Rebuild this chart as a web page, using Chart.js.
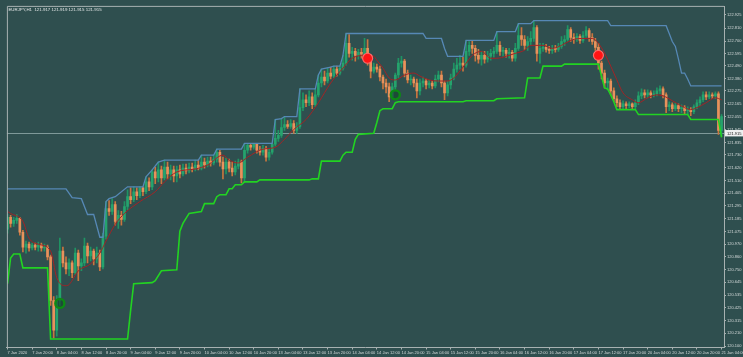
<!DOCTYPE html>
<html>
<head>
<meta charset="utf-8">
<script src="https://cdn.jsdelivr.net/npm/chart.js@4/dist/chart.umd.min.js"></script>
<style>
html,body{margin:0;padding:0;background:#2f4f4f;}
canvas{display:block;}
</style>
</head>
<body>
<canvas id="c" width="743" height="357"></canvas>
<script>
// ---- data (EURJPY H1, bar index 0 = 7 Jan 2020 12:00) ----
const symbolTitle = 'EURJPY,H1  121.917 121.919 121.915 121.915';
const currentPrice = 121.915;

const xTickLabels = ['7 Jan 2020','7 Jan 20:00','8 Jan 04:00','8 Jan 12:00','8 Jan 20:00','9 Jan 04:00','9 Jan 12:00','9 Jan 20:00','10 Jan 04:00','10 Jan 12:00','10 Jan 20:00','13 Jan 04:00','13 Jan 12:00','13 Jan 20:00','14 Jan 04:00','14 Jan 12:00','14 Jan 20:00','15 Jan 04:00','15 Jan 12:00','15 Jan 20:00','16 Jan 04:00','16 Jan 12:00','16 Jan 20:00','17 Jan 04:00','17 Jan 12:00','17 Jan 20:00','20 Jan 04:00','20 Jan 12:00','20 Jan 20:00','21 Jan 04:00'];
const barsPerTick = 8;

const yTickValues = [122.925,122.810,122.700,122.595,122.490,122.380,122.275,122.165,122.055,121.945,121.835,121.730,121.620,121.510,121.405,121.295,121.185,121.075,120.970,120.860,120.750,120.645,120.535,120.425,120.315,120.210,120.100];

const opens = [
121.096,121.197,121.146,121.172,121.189,121.071,120.944,120.969,120.936,120.961,
120.944,120.961,120.936,120.944,120.860,120.489,120.236,120.489,120.910,120.809,
120.759,120.809,120.725,120.893,120.784,120.809,120.953,120.868,120.910,120.843,
120.893,120.775,121.037,121.273,121.248,121.306,121.163,121.214,121.180,121.290,
121.374,121.349,121.416,121.382,121.450,121.416,121.500,121.458,121.585,121.534,
121.602,121.534,121.627,121.568,121.602,121.551,121.602,121.568,121.618,121.593,
121.627,121.610,121.644,121.618,121.669,121.644,121.677,121.661,121.694,121.753,
121.669,121.610,121.669,121.618,121.585,121.635,121.669,121.534,121.770,121.812,
121.795,121.821,121.770,121.753,121.787,121.711,121.753,121.821,121.871,121.897,
121.964,121.989,121.973,121.998,121.939,121.973,122.133,122.200,122.175,122.225,
122.158,122.242,122.343,122.394,122.360,122.428,122.402,122.461,122.428,122.470,
122.512,122.681,122.596,122.613,122.579,122.605,122.588,122.638,122.529,122.445,
122.478,122.461,122.394,122.343,122.310,122.225,122.310,122.411,122.512,122.529,
122.428,122.369,122.377,122.343,122.276,122.343,122.360,122.327,122.343,122.318,
122.377,122.411,122.343,122.259,122.327,122.386,122.461,122.495,122.512,122.495,
122.613,122.664,122.638,122.579,122.546,122.579,122.546,122.571,122.596,122.613,
122.664,122.613,122.622,122.596,122.605,122.554,122.638,122.748,122.714,122.664,
122.697,122.723,122.816,122.596,122.638,122.647,122.630,122.622,122.638,122.630,
122.655,122.697,122.714,122.799,122.731,122.714,122.740,122.706,122.748,122.790,
122.731,122.697,122.647,122.512,122.428,122.343,122.360,122.276,122.209,122.175,
122.141,122.166,122.150,122.166,122.141,122.175,122.234,122.259,122.242,122.259,
122.242,122.251,122.276,122.293,122.242,122.141,122.158,122.124,122.150,122.124,
122.133,122.107,122.116,122.099,122.141,122.175,122.200,122.242,122.225,122.242,
122.234,122.251,121.939];

const highs = [
121.222,121.214,121.197,121.222,121.197,121.087,120.995,120.986,120.978,120.978,
120.986,120.978,120.969,120.961,120.877,120.522,120.531,121.020,120.944,120.860,
120.843,120.826,120.936,120.919,120.843,121.020,120.978,120.944,120.927,120.944,
120.919,121.062,121.332,121.340,121.357,121.332,121.256,121.248,121.332,121.433,
121.450,121.458,121.450,121.458,121.458,121.543,121.534,121.602,121.627,121.669,
121.635,121.686,121.669,121.644,121.635,121.635,121.644,121.652,121.652,121.661,
121.661,121.686,121.686,121.728,121.703,121.711,121.711,121.728,121.779,121.770,
121.711,121.703,121.694,121.669,121.677,121.694,121.686,121.829,121.829,121.829,
121.829,121.829,121.804,121.812,121.804,121.787,121.829,122.032,121.939,122.040,
122.057,122.023,122.032,122.023,122.006,122.293,122.259,122.242,122.276,122.259,
122.293,122.411,122.461,122.445,122.470,122.478,122.487,122.487,122.487,122.579,
122.765,122.757,122.647,122.638,122.630,122.638,122.723,122.714,122.563,122.512,
122.504,122.487,122.411,122.377,122.343,122.343,122.428,122.554,122.571,122.546,
122.453,122.411,122.394,122.377,122.377,122.394,122.377,122.369,122.360,122.411,
122.445,122.445,122.360,122.360,122.419,122.512,122.554,122.579,122.563,122.706,
122.697,122.706,122.664,122.630,122.613,122.613,122.613,122.630,122.647,122.782,
122.697,122.647,122.638,122.638,122.622,122.681,122.849,122.816,122.748,122.740,
122.782,122.875,122.832,122.681,122.681,122.672,122.655,122.664,122.664,122.681,
122.740,122.748,122.832,122.816,122.765,122.765,122.757,122.782,122.824,122.807,
122.765,122.723,122.681,122.529,122.453,122.386,122.377,122.301,122.234,122.200,
122.192,122.183,122.183,122.175,122.200,122.268,122.293,122.284,122.284,122.276,
122.276,122.301,122.318,122.310,122.259,122.183,122.175,122.175,122.166,122.158,
122.150,122.141,122.133,122.158,122.200,122.225,122.268,122.268,122.268,122.259,
122.268,122.268,122.074];

const lows = [
121.062,121.113,121.121,121.146,121.045,120.902,120.893,120.910,120.919,120.919,
120.910,120.910,120.910,120.834,120.447,120.168,120.185,120.447,120.775,120.716,
120.700,120.683,120.708,120.657,120.742,120.784,120.809,120.826,120.792,120.809,
120.742,120.759,121.012,121.214,121.222,121.130,121.104,121.130,121.163,121.264,
121.315,121.332,121.349,121.366,121.382,121.399,121.425,121.433,121.484,121.500,
121.484,121.517,121.526,121.517,121.500,121.500,121.534,121.551,121.568,121.576,
121.585,121.593,121.602,121.602,121.618,121.627,121.635,121.644,121.669,121.635,
121.526,121.568,121.585,121.551,121.559,121.610,121.492,121.500,121.745,121.770,
121.779,121.745,121.728,121.728,121.677,121.686,121.736,121.804,121.846,121.880,
121.939,121.956,121.956,121.914,121.914,121.956,122.107,122.141,122.150,122.124,
122.141,122.225,122.310,122.327,122.343,122.377,122.386,122.402,122.411,122.453,
122.495,122.563,122.537,122.529,122.546,122.554,122.563,122.495,122.386,122.428,
122.436,122.360,122.293,122.259,122.183,122.209,122.276,122.386,122.478,122.394,
122.343,122.327,122.310,122.217,122.242,122.310,122.293,122.301,122.293,122.301,
122.352,122.310,122.200,122.234,122.293,122.369,122.436,122.461,122.445,122.478,
122.579,122.596,122.529,122.512,122.495,122.512,122.520,122.537,122.563,122.596,
122.579,122.571,122.563,122.554,122.529,122.529,122.622,122.664,122.630,122.622,
122.664,122.697,122.529,122.512,122.613,122.605,122.596,122.596,122.605,122.613,
122.638,122.664,122.697,122.697,122.681,122.697,122.681,122.689,122.731,122.697,
122.672,122.622,122.461,122.377,122.301,122.284,122.242,122.183,122.141,122.116,
122.124,122.124,122.133,122.116,122.124,122.158,122.209,122.217,122.217,122.217,
122.225,122.234,122.251,122.217,122.091,122.107,122.099,122.107,122.099,122.091,
122.082,122.074,122.065,122.082,122.124,122.150,122.183,122.200,122.209,122.209,
122.209,121.905,121.888];

const closes = [
121.197,121.146,121.172,121.189,121.071,120.944,120.969,120.936,120.961,120.944,
120.961,120.936,120.944,120.860,120.489,120.236,120.489,120.910,120.809,120.759,
120.809,120.725,120.893,120.784,120.809,120.953,120.868,120.910,120.843,120.893,
120.775,121.037,121.273,121.248,121.306,121.163,121.214,121.180,121.290,121.374,
121.349,121.416,121.382,121.450,121.416,121.500,121.458,121.585,121.534,121.602,
121.534,121.627,121.568,121.602,121.551,121.602,121.568,121.618,121.593,121.627,
121.610,121.644,121.618,121.669,121.644,121.677,121.661,121.694,121.753,121.669,
121.610,121.669,121.618,121.585,121.635,121.669,121.534,121.770,121.812,121.795,
121.821,121.770,121.753,121.787,121.711,121.753,121.821,121.871,121.897,121.964,
121.989,121.973,121.998,121.939,121.973,122.133,122.200,122.175,122.225,122.158,
122.242,122.343,122.394,122.360,122.428,122.402,122.461,122.428,122.470,122.512,
122.681,122.596,122.613,122.579,122.605,122.588,122.638,122.529,122.445,122.478,
122.461,122.394,122.343,122.310,122.225,122.310,122.411,122.512,122.529,122.428,
122.369,122.377,122.343,122.276,122.343,122.360,122.327,122.343,122.318,122.377,
122.411,122.343,122.259,122.327,122.386,122.461,122.495,122.512,122.495,122.613,
122.664,122.638,122.579,122.546,122.579,122.546,122.571,122.596,122.613,122.664,
122.613,122.622,122.596,122.605,122.554,122.638,122.748,122.714,122.664,122.697,
122.723,122.816,122.596,122.638,122.647,122.630,122.622,122.638,122.630,122.655,
122.697,122.714,122.799,122.731,122.714,122.740,122.706,122.748,122.790,122.731,
122.697,122.647,122.512,122.428,122.343,122.360,122.276,122.209,122.175,122.141,
122.166,122.150,122.166,122.141,122.175,122.234,122.259,122.242,122.259,122.242,
122.251,122.276,122.293,122.242,122.141,122.158,122.124,122.150,122.124,122.133,
122.107,122.116,122.099,122.141,122.175,122.200,122.242,122.225,122.242,122.234,
122.251,121.939,122.057];

// upper channel (blue) breakpoints
const upperIdx = [0,19,21,24,26,28,30,31,32,33,35,39,44,45,47,49,51,62,63,67,68,76,77,86,87,89,90,94,95,100,101,102,105,106,108,109,110,135,136,141,142,143,148,149,158,159,165,166,170,171,195,196,214,215,216,217,218,219,220,221,222,232];
const upperVal = [121.441,121.441,121.366,121.357,121.222,121.222,121.028,121.028,121.332,121.357,121.374,121.458,121.458,121.543,121.602,121.669,121.686,121.686,121.728,121.728,121.779,121.779,121.829,121.829,122.032,122.040,122.057,122.057,122.293,122.293,122.411,122.461,122.478,122.487,122.487,122.579,122.765,122.765,122.723,122.723,122.638,122.571,122.571,122.706,122.706,122.782,122.782,122.849,122.849,122.875,122.875,122.832,122.832,122.765,122.697,122.655,122.546,122.428,122.428,122.377,122.318,122.318];

// lower trailing line (green) breakpoints
const lowerIdx = [0,1,2,4,5,13,14,39,40,41,47,48,50,55,56,57,59,63,64,67,68,69,71,72,73,74,76,77,81,82,98,99,101,102,108,109,110,112,113,114,119,120,121,122,125,126,127,148,149,158,159,168,169,173,174,180,181,192,193,194,195,196,197,198,204,205,221,222,231,232];
const lowerVal = [120.632,120.851,120.885,120.885,120.767,120.767,120.160,120.160,120.405,120.632,120.641,120.657,120.742,120.750,121.079,121.146,121.231,121.248,121.315,121.315,121.374,121.391,121.391,121.441,121.441,121.475,121.475,121.500,121.500,121.517,121.517,121.526,121.526,121.677,121.677,121.728,121.753,121.753,121.863,121.905,121.914,122.006,122.107,122.124,122.124,122.175,122.183,122.183,122.192,122.192,122.209,122.217,122.386,122.386,122.487,122.487,122.504,122.504,122.402,122.301,122.293,122.242,122.183,122.116,122.116,122.074,122.074,122.032,122.032,121.880];

// moving average (dark red)
const maIdx = [0,1,5,7,10,14,16,19,20,23,27,30,32,35,38,43,48,51,55,61,65,70,72,75,78,83,87,90,93,97,101,105,109,112,116,119,120,122,124,126,129,132,134,137,140,143,145,147,149,151,154,157,159,162,165,168,170,174,177,180,183,186,190,192,194,196,198,200,203,205,208,211,213,216,220,222,224,227,230,232];
const maVal = [121.248,121.231,121.163,121.020,120.969,120.910,120.683,120.615,120.624,120.742,120.801,120.893,120.995,121.138,121.231,121.332,121.416,121.500,121.585,121.610,121.644,121.728,121.686,121.661,121.711,121.779,121.795,121.863,121.947,122.032,122.175,122.343,122.470,122.554,122.579,122.571,122.537,122.470,122.386,122.369,122.411,122.428,122.402,122.369,122.360,122.360,122.386,122.445,122.512,122.579,122.613,122.554,122.554,122.571,122.596,122.622,122.664,122.664,122.638,122.664,122.706,122.723,122.723,122.681,122.596,122.487,122.369,122.259,122.200,122.175,122.217,122.242,122.234,122.192,122.133,122.116,122.133,122.175,122.217,122.200];

// signal markers
const buyIdx = [17,126];
const buyVal = [120.464,122.242];
const sellIdx = [117,192];
const sellVal = [122.554,122.579];

// ---- styling ----
const BG = '#2f4f4f';
const AXIS = '#a7b1b1';
const TEXT = '#d4dada';
const UP_BODY = '#25a36d', DN_BODY = '#e8925c';
const UP_WICK = '#1f9463', DN_WICK = '#c9763f';
const FONT = {family: 'Liberation Sans, Arial, sans-serif', size: 4};

const idx = closes.map((_, i) => i);
const isUp = i => closes[i] >= opens[i];

const wickData = idx.map(i => ({x: i, y: [lows[i], highs[i]]}));
const bodyData = idx.map(i => ({x: i, y: [opens[i], closes[i]]}));
const pts = (xs, ys) => xs.map((x, k) => ({x, y: ys[k]}));

const bgPlugin = {
  id: 'bg',
  beforeDraw(chart) {
    const c = chart.ctx;
    c.save(); c.fillStyle = BG; c.fillRect(0, 0, chart.width, chart.height); c.restore();
  }
};
const pricePlugin = {
  id: 'priceLine',
  beforeDatasetsDraw(chart) {
    const c = chart.ctx, a = chart.chartArea, y = Math.round(chart.scales.y.getPixelForValue(currentPrice)) + 0.5;
    c.save(); c.strokeStyle = '#7f9999'; c.lineWidth = 1;
    c.beginPath(); c.moveTo(a.left, y); c.lineTo(a.right, y); c.stroke(); c.restore();
  },
  afterDraw(chart) {
    const c = chart.ctx, a = chart.chartArea;
    const y = chart.scales.y.getPixelForValue(currentPrice);
    c.save();
    c.strokeStyle = AXIS; c.lineWidth = 1;
    c.beginPath(); c.moveTo(a.left + 0.5, a.top - 0.5); c.lineTo(a.right, a.top - 0.5);
    c.moveTo(a.left + 0.5, a.top - 0.5); c.lineTo(a.left + 0.5, a.bottom); c.stroke();
    c.fillStyle = '#eef0f0';
    c.fillRect(a.right + 1, y - 3.2, chart.width - a.right - 1, 6.4);
    c.fillStyle = '#111';
    c.font = FONT.size + 'px ' + FONT.family;
    c.textBaseline = 'middle'; c.textAlign = 'left';
    c.fillText(currentPrice.toFixed(3), a.right + 3, y + 0.2);
    c.fillStyle = '#e4e8e8'; c.textBaseline = 'top';
    c.font = '4.4px ' + FONT.family;
    c.fillText(symbolTitle, a.left + 1.5, a.top + 0.8);
    c.restore();
  }
};

new Chart(document.getElementById('c'), {
  type: 'bar',
  plugins: [bgPlugin, pricePlugin],
  data: {
    datasets: [
      {type: 'line', label: 'sell', data: pts(sellIdx, sellVal), showLine: false, pointStyle: 'circle', pointRadius: 5, pointBackgroundColor: '#ff1414', pointBorderColor: '#ff6a6a', pointBorderWidth: 1.2, order: 0},
      {type: 'line', label: 'buy', data: pts(buyIdx, buyVal), showLine: false, pointStyle: 'circle', pointRadius: 4.5, pointBackgroundColor: 'rgba(20,70,40,0.6)', pointBorderColor: '#0d8a14', pointBorderWidth: 2.4, order: 0},
      {type: 'line', label: 'MA', data: pts(maIdx, maVal), borderColor: '#a22426', borderWidth: 1, pointRadius: 0, cubicInterpolationMode: 'monotone', order: 2},
      {type: 'line', label: 'upper', data: pts(upperIdx, upperVal), borderColor: '#5688b5', borderWidth: 1.3, pointRadius: 0, tension: 0, order: 1},
      {type: 'line', label: 'lower', data: pts(lowerIdx, lowerVal), borderColor: '#22d322', borderWidth: 1.6, pointRadius: 0, tension: 0, order: 1},
      {label: 'wick', data: wickData, grouped: false, barThickness: 1, borderWidth: 0, borderSkipped: false,
        backgroundColor: ctx => isUp(ctx.dataIndex) ? UP_WICK : DN_WICK, order: 11},
      {label: 'body', data: bodyData, grouped: false, barThickness: 2, minBarLength: 1, borderWidth: 0, borderSkipped: false,
        backgroundColor: ctx => isUp(ctx.dataIndex) ? UP_BODY : DN_BODY, order: 10}
    ]
  },
  options: {
    responsive: false,
    devicePixelRatio: 1,
    animation: false,
    events: [],
    layout: {padding: {top: 3, left: 2, right: 0, bottom: 0}},
    plugins: {legend: {display: false}, tooltip: {enabled: false}, title: {display: false}},
    scales: {
      x: {
        type: 'linear', offset: false, min: -0.2, max: 232.8,
        grid: {display: true, drawOnChartArea: false, drawTicks: true, tickLength: 2, tickColor: AXIS, offset: false},
        border: {display: true, color: AXIS, width: 1},
        afterBuildTicks: s => { s.ticks = xTickLabels.map((_, k) => ({value: k * barsPerTick})); },
        afterFit: s => { s.height = 9.5; s.paddingLeft = 0; s.paddingRight = 0; },
        ticks: {autoSkip: false, maxRotation: 0, minRotation: 0, align: 'start', padding: 1, color: TEXT, font: FONT,
          callback: v => xTickLabels[Math.round(v / barsPerTick)]}
      },
      y: {
        position: 'right', min: 120.088, max: 122.992,
        grid: {display: true, drawOnChartArea: false, drawTicks: true, tickLength: 2, tickColor: AXIS},
        border: {display: true, color: AXIS, width: 1},
        afterBuildTicks: s => { s.ticks = yTickValues.map(v => ({value: v})); },
        afterFit: s => { s.width = 19; s.paddingTop = 0; s.paddingBottom = 0; },
        ticks: {padding: 1, color: TEXT, font: FONT, callback: v => Number(v).toFixed(3)}
      }
    }
  }
});
</script>
</body>
</html>
